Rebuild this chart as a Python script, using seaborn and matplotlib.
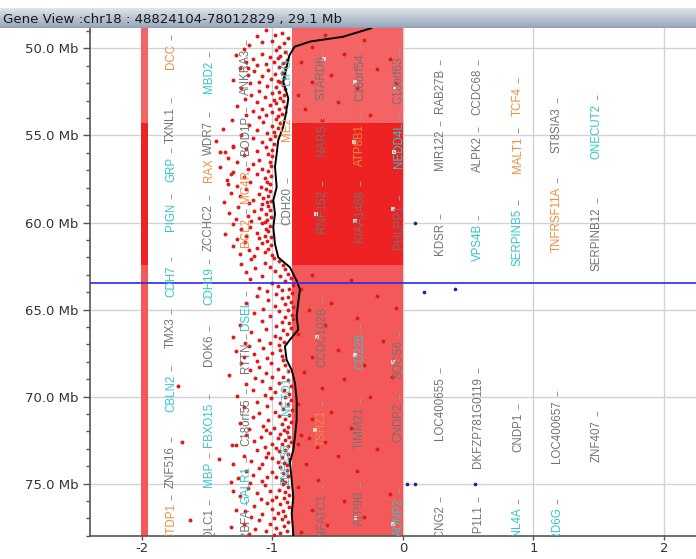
import numpy as np
import pandas as pd
import matplotlib
matplotlib.use("Agg")
import matplotlib.pyplot as plt
from matplotlib.colors import LinearSegmentedColormap
from matplotlib.ticker import MultipleLocator, FuncFormatter
import seaborn as sns

sns.set_theme(style="white")
plt.rcParams["font.family"] = ["DejaVu Sans"]
plt.rcParams["axes.unicode_minus"] = False

CHROM = "chr18"
START_BP = 48824104
END_BP = 78012829
START_MB = START_BP / 1e6
END_MB = END_BP / 1e6
SPAN_MB = int((END_BP - START_BP) / 1e5) / 10   # truncated to one decimal

# copy-number segments along the region (Mb)
seg_start = [START_MB, 54.30, 62.45]
seg_end = [54.30, 62.45, END_MB]
seg_color = ["#F46464", "#EE2222", "#F45959"]
seg_left = -0.85          # segment mean log ratio
track_left = -2.006       # summary track at the left
track_width = 0.053

# probe log ratios: (position Mb, log ratio)
probes = [
    (48.95, -1.05), (49.1, -0.93), (49.3, -1.12), (49.4, -0.88), (49.55, -1.0), (49.7, -0.91), (49.8, -1.18),
    (49.9, -0.95), (49.2, -0.98), (49.6, -1.08),
    (50.05, -1.22), (50.1, -0.97), (50.2, -0.9), (50.3, -1.08), (50.35, -1.28), (50.45, -0.94), (50.5, -1.02),
    (50.6, -1.15), (50.65, -0.89), (50.75, -0.99), (50.8, -1.2), (50.85, -0.92), (50.9, -1.05), (50.95, -1.12),
    (50.55, -0.96),
    (51.05, -0.95), (51.1, -1.25), (51.15, -0.9), (51.25, -1.03), (51.3, -1.14), (51.4, -0.93), (51.45, -0.98),
    (51.55, -1.19), (51.6, -1.08), (51.7, -0.91), (51.75, -1.01), (51.8, -1.3), (51.85, -0.96), (51.9, -1.1),
    (51.95, -0.94),
    (52.0, -1.17), (52.1, -0.92), (52.15, -1.04), (52.2, -0.97), (52.3, -1.24), (52.35, -0.9), (52.45, -1.1),
    (52.5, -0.95), (52.55, -1.0), (52.65, -1.16), (52.7, -0.91), (52.8, -1.06), (52.85, -0.94), (52.9, -1.21),
    (52.95, -0.99),
    (53.0, -0.92), (53.1, -1.12), (53.15, -0.97), (53.25, -1.02), (53.3, -1.27), (53.35, -0.9), (53.45, -1.08),
    (53.5, -0.95), (53.6, -1.15), (53.65, -1.0), (53.75, -0.93), (53.8, -1.2), (53.85, -1.05), (53.9, -0.96),
    (53.95, -1.1),
    (54.05, -0.97), (54.1, -1.31), (54.2, -1.07), (54.3, -0.94), (54.4, -1.18), (54.45, -1.0), (54.55, -0.96),
    (54.6, -1.38), (54.7, -1.12), (54.8, -0.99), (54.85, -1.04), (54.95, -1.24),
    (55.05, -0.98), (55.15, -1.15), (55.2, -1.02), (55.3, -1.43), (55.4, -1.08), (55.5, -0.99), (55.6, -1.3),
    (55.65, -1.05), (55.75, -1.2), (55.85, -1.0), (55.9, -1.12), (55.95, -1.36),
    (56.05, -1.03), (56.1, -1.22), (56.2, -1.0), (56.3, -1.34), (56.4, -1.1), (56.5, -1.02), (56.55, -1.27),
    (56.65, -1.15), (56.75, -1.01), (56.8, -1.4), (56.9, -1.08), (56.95, -1.19),
    (57.05, -1.03), (57.1, -1.3), (57.2, -1.12), (57.3, -1.01), (57.4, -1.22), (57.45, -1.06), (57.55, -1.35),
    (57.65, -1.04), (57.7, -1.17), (57.8, -1.02), (57.9, -1.27), (57.95, -1.09),
    (58.05, -1.05), (58.1, -1.2), (58.2, -1.02), (58.3, -1.32), (58.35, -1.1), (58.45, -1.03), (58.5, -1.25),
    (58.6, -1.07), (58.7, -1.15), (58.75, -1.01), (58.8, -1.37), (58.85, -1.04), (58.9, -1.18), (58.95, -1.08),
    (59.05, -1.03), (59.1, -1.26), (59.2, -1.09), (59.3, -1.02), (59.35, -1.14), (59.45, -1.33), (59.5, -1.05),
    (59.6, -1.19), (59.7, -1.01), (59.75, -1.1), (59.8, -1.28), (59.85, -1.04), (59.9, -1.16), (59.95, -1.06),
    (60.05, -1.08), (60.1, -1.3), (60.2, -1.02), (60.25, -1.17), (60.35, -1.05), (60.4, -1.24), (60.5, -1.03),
    (60.6, -1.12), (60.65, -1.36), (60.75, -1.06), (60.8, -1.2), (60.85, -1.01), (60.9, -1.1), (60.95, -1.27),
    (61.05, -1.04), (61.1, -1.21), (61.2, -1.08), (61.3, -1.01), (61.35, -1.3), (61.45, -1.12), (61.55, -1.03),
    (61.6, -1.18), (61.7, -1.06), (61.8, -1.25), (61.85, -1.0), (61.95, -1.14),
    (62.05, -0.99), (62.1, -1.16), (62.2, -0.95), (62.3, -1.06), (62.4, -1.24), (62.45, -0.92), (62.55, -1.02),
    (62.6, -1.13), (62.7, -0.9), (62.8, -0.98), (62.85, -1.2), (62.95, -0.88),
    (63.05, -0.94), (63.1, -1.08), (63.2, -0.86), (63.25, -1.17), (63.35, -0.9), (63.45, -1.0), (63.6, -0.84),
    (63.65, -0.96), (63.75, -1.1), (63.8, -0.87), (63.9, -0.93), (63.95, -1.04),
    (64.05, -0.85), (64.1, -0.97), (64.2, -1.12), (64.3, -0.88), (64.35, -0.93), (64.45, -1.03), (64.55, -0.86),
    (64.6, -1.2), (64.7, -0.9), (64.8, -0.98), (64.85, -0.84), (64.95, -1.07),
    (65.05, -0.88), (65.1, -0.95), (65.2, -1.14), (65.3, -0.85), (65.4, -1.02), (65.45, -0.9), (65.55, -0.84),
    (65.65, -1.08), (65.7, -0.93), (65.8, -0.87), (65.9, -1.25), (65.95, -0.97),
    (66.05, -0.86), (66.1, -1.05), (66.2, -0.92), (66.3, -1.16), (66.4, -0.89), (66.5, -0.98), (66.55, -1.3),
    (66.65, -0.94), (66.75, -1.1), (66.85, -0.91), (66.9, -1.02), (66.95, -1.21),
    (67.05, -0.95), (67.1, -1.18), (67.2, -1.07), (67.3, -0.94), (67.4, -1.28), (67.5, -1.0), (67.55, -1.14),
    (67.65, -0.93), (67.75, -1.22), (67.8, -1.04), (67.9, -0.92), (67.95, -1.12),
    (68.05, -1.01), (68.1, -1.24), (68.2, -0.9), (68.3, -1.1), (68.4, -0.96), (68.5, -1.17), (68.55, -0.88),
    (68.65, -1.05), (68.75, -1.33), (68.85, -0.92), (68.9, -1.0), (68.95, -1.13),
    (69.05, -0.88), (69.1, -1.08), (69.2, -0.95), (69.3, -1.2), (69.4, -0.86), (69.5, -1.02), (69.6, -0.91),
    (69.65, -1.15), (69.75, -0.98), (69.85, -0.87), (69.9, -1.06), (69.95, -1.27),
    (70.05, -0.9), (70.1, -1.01), (70.2, -0.86), (70.3, -1.12), (70.35, -0.94), (70.45, -0.88), (70.55, -1.04),
    (70.6, -1.22), (70.7, -0.92), (70.8, -0.85), (70.9, -0.98), (70.95, -1.1),
    (71.05, -0.87), (71.1, -0.95), (71.2, -1.15), (71.3, -0.9), (71.35, -1.03), (71.45, -0.86), (71.5, -1.25),
    (71.6, -0.93), (71.7, -1.07), (71.75, -0.88), (71.8, -0.99), (71.85, -1.18), (71.9, -0.91), (71.95, -1.05),
    (72.05, -0.89), (72.1, -1.02), (72.15, -0.94), (72.2, -1.2), (72.3, -0.87), (72.35, -1.09), (72.4, -0.96),
    (72.5, -0.9), (72.55, -1.14), (72.6, -0.86), (72.7, -1.0), (72.75, -0.93), (72.8, -1.28), (72.85, -0.88),
    (72.9, -1.06), (72.95, -0.97),
    (73.05, -0.9), (73.1, -1.12), (73.15, -0.95), (73.25, -1.03), (73.3, -0.88), (73.4, -1.22), (73.45, -0.93),
    (73.55, -1.0), (73.6, -0.87), (73.7, -1.16), (73.75, -0.96), (73.8, -0.91), (73.85, -1.08), (73.9, -1.3),
    (73.95, -0.89), (73.5, -1.05),
    (74.05, -0.94), (74.1, -1.1), (74.2, -0.89), (74.25, -1.2), (74.35, -1.0), (74.4, -0.92), (74.5, -1.15),
    (74.55, -0.88), (74.65, -1.04), (74.7, -1.26), (74.8, -0.93), (74.85, -1.08), (74.9, -0.9), (74.95, -1.17),
    (74.6, -0.97),
    (75.05, -0.92), (75.1, -1.06), (75.2, -0.88), (75.25, -1.19), (75.35, -0.95), (75.4, -1.02), (75.5, -0.9),
    (75.55, -1.12), (75.65, -0.87), (75.7, -1.25), (75.8, -0.97), (75.85, -0.91), (75.9, -1.09), (75.95, -1.0),
    (75.45, -1.3),
    (76.05, -0.89), (76.1, -1.04), (76.2, -0.94), (76.3, -1.14), (76.35, -0.87), (76.45, -1.0), (76.55, -0.92),
    (76.6, -1.21), (76.7, -0.96), (76.75, -1.08), (76.85, -0.9), (76.9, -1.16), (76.95, -0.99), (76.5, -1.28),
    (77.05, -0.93), (77.1, -1.1), (77.2, -0.88), (77.3, -1.02), (77.35, -1.22), (77.45, -0.91), (77.55, -0.97),
    (77.6, -1.13), (77.7, -0.89), (77.75, -1.05), (77.85, -0.94), (77.9, -1.18), (77.95, -0.99), (77.5, -1.32),
    # isolated probes further out
    (72.6, -1.69), (73.56, -1.41), (77.1, -1.63), (69.4, -1.72), (55.66, -1.30), (74.9, -1.32), (55.94, -1.40),
    (57.2, -1.32), (57.8, -1.34), (72.8, -1.31), (51.15, -1.19),
    # probes lying over the segment
    (49.2, -0.6), (49.5, -0.3), (49.9, -0.7), (50.3, -0.45), (50.8, -0.78), (51.2, -0.2), (51.5, -0.55),
    (51.9, -0.7), (52.3, -0.35), (52.7, -0.8), (53.1, -0.5), (53.5, -0.75), (53.8, -0.25), (54.1, -0.62),
    (50.6, -0.1), (52.0, -0.05),
    (63.0, -0.7), (63.3, -0.4), (63.8, -0.78), (64.2, -0.2), (64.6, -0.55), (65.0, -0.72), (65.5, -0.35),
    (65.9, -0.6), (66.4, -0.8), (66.8, -0.15), (67.3, -0.5), (67.7, -0.7), (68.2, -0.3), (68.6, -0.76),
    (69.0, -0.45), (69.5, -0.62), (70.0, -0.25), (70.4, -0.8), (70.9, -0.55), (71.3, -0.7), (71.8, -0.4),
    (72.2, -0.78), (72.6, -0.6), (73.0, -0.2), (73.4, -0.5), (73.9, -0.74), (74.3, -0.35), (74.8, -0.65),
    (75.2, -0.8), (75.6, -0.1), (76.0, -0.45), (76.5, -0.7), (76.9, -0.3), (77.4, -0.58), (77.8, -0.78),
    (64.9, -0.05), (68.9, -0.08), (72.9, -0.66), (72.4, -0.72), (72.7, -0.8),
]

# smoothed log-ratio trend
trend_mb = [48.83, 49.33, 49.6, 49.9, 50.4, 51.04, 51.9, 52.87, 53.54, 54.5, 55.27, 56.04, 56.81, 57.96,
            58.73, 59.5, 60.27, 61.23, 62.0, 62.58, 63.35, 63.85, 64.6, 65.39, 66.16, 66.73, 67.12, 67.89,
            68.47, 69.22, 70.2, 71.35, 72.31, 73.08, 73.76, 74.81, 75.78, 76.73, 77.87, 78.01]
trend_ratio = [-0.24, -0.46, -0.71, -0.83, -0.87, -0.89, -0.917, -0.878, -0.891, -0.917, -0.955, -0.967,
               -0.98, -0.967, -0.993, -0.98, -0.993, -0.98, -0.955, -0.865, -0.814, -0.789, -0.802, -0.814,
               -0.802, -0.865, -0.904, -0.891, -0.852, -0.827, -0.814, -0.814, -0.827, -0.84, -0.865,
               -0.852, -0.84, -0.852, -0.84, -0.84]

# cursor position and outlier probes
cursor_mb = 63.48
outlier_mb = [60.0, 64.0, 63.8, 75.0, 75.0, 75.0]
outlier_ratio = [0.09, 0.16, 0.40, 0.03, 0.09, 0.55]

# exon boxes inside the segment
exon_mb = [50.58, 51.9, 52.25, 55.37, 55.94, 59.52, 59.92, 59.23, 66.56, 67.6, 68.0, 71.93, 77.0, 77.3]
exon_ratio = [-0.605, -0.368, -0.061, -0.375, -0.069, -0.666, -0.368, -0.077, -0.659, -0.368, -0.077,
              -0.674, -0.368, -0.077]

# gene annotations: name, column (log-ratio units), label top (Mb), class
gene_name = ["DCC", "TXNL1", "GRP", "PIGN", "CDH7", "TMX3", "CBLN2", "ZNF516", "CTDP1",
             "MBD2", "WDR7", "RAX", "ZCCHC2", "CDH19", "DOK6", "FBXO15", "MBP", "PQLC1",
             "ANKRA3", "BOD1P", "MC4R", "BCL2", "DSEL", "RTTN", "C18orf55", "GALR1", "RBFA",
             "LIPG", "ME2", "CDH20", "NETO1", "ZNF236",
             "STARD6", "NARS", "RNF152", "CCDC102B", "TSHZ1", "NFATC1",
             "C18orf54", "ATP8B1", "KIAA1468", "CD226", "TIMM21", "ATP9B",
             "C18orf63", "NEDD4L", "PHLPP1", "SOCS6", "CNDP2", "ADNP2",
             "RAB27B", "MIR122", "KDSR", "LOC400655", "KCNG2",
             "CCDC68", "ALPK2", "VPS4B", "DKFZP781G0119", "HSBP1L1",
             "TCF4", "MALT1", "SERPINB5", "CNDP1", "TXNL4A",
             "ST8SIA3", "TNFRSF11A", "LOC400657", "PARD6G",
             "ONECUT2", "SERPINB12", "ZNF407"]
gene_col = ([-1.776] * 9 + [-1.485] * 9 + [-1.202] * 9 + [-0.888] * 5 + [-0.62] * 6 + [-0.329] * 6
            + [-0.031] * 6 + [0.283] * 5 + [0.574] * 5 + [0.881] * 5 + [1.179] * 4 + [1.485] * 3)
gene_top = [49.71, 53.35, 56.23, 58.89, 62.46, 65.46, 68.75, 72.85, 76.14,
            50.69, 54.15, 56.29, 58.94, 62.58, 66.45, 70.37, 73.77, 76.43,
            50.0, 53.87, 56.98, 59.75, 64.43, 66.91, 70.08, 74.0, 76.43,
            50.58, 53.92, 57.96, 68.87, 72.68,
            50.4, 54.33, 58.14, 64.83, 70.77, 75.56,
            50.29, 54.33, 58.14, 66.33, 70.6, 75.39,
            50.46, 54.21, 58.94, 66.73, 70.37, 75.79,
            51.15, 54.67, 60.04, 68.87, 76.26,
            51.15, 55.02, 60.1, 68.87, 76.26,
            52.19, 55.08, 59.23, 70.95, 76.37,
            53.35, 57.96, 70.2, 76.37,
            53.17, 59.12, 71.35]
gene_class = ["o", "g", "c", "c", "c", "g", "c", "g", "o",
              "c", "g", "o", "g", "c", "g", "c", "c", "g",
              "g", "g", "o", "o", "c", "g", "g", "c", "g",
              "c", "o", "g", "c", "c",
              "g", "g", "g", "g", "o", "g",
              "g", "o", "g", "c", "g", "g",
              "g", "c", "g", "g", "g", "c",
              "g", "g", "g", "g", "g",
              "g", "g", "c", "g", "g",
              "o", "o", "c", "g", "c",
              "g", "o", "g", "c",
              "c", "g", "g"]
class_color = {"g": "#727272", "c": "#33C6CA", "o": "#F28C40"}

probe_df = pd.DataFrame(probes, columns=["mb", "ratio"])

fig = plt.figure(figsize=(6.96, 5.59), dpi=100)
fig.patch.set_facecolor("white")
ax = fig.add_axes([90 / 696, 23 / 559, 606 / 696, 508 / 559])
ax.set_facecolor("white")

# segments: main copy-number block and the summary track
for s, e, c in zip(seg_start, seg_end, seg_color):
    ax.barh(y=(s + e) / 2, width=-seg_left, left=seg_left, height=e - s, color=c, linewidth=0, zorder=1)
    ax.barh(y=(s + e) / 2, width=track_width, left=track_left, height=e - s, color=c, linewidth=0, zorder=1)

sns.scatterplot(data=probe_df, x="ratio", y="mb", color="#DC1C1C", s=8, linewidth=0, ax=ax, zorder=3)
sns.scatterplot(x=exon_ratio, y=exon_mb, marker="s", color="#F9D6D6", s=10, linewidth=0, ax=ax, zorder=4)
sns.lineplot(x=trend_ratio, y=trend_mb, sort=False, estimator=None, orient="y", color="black",
             linewidth=1.4, ax=ax, zorder=5)
ax.axhline(cursor_mb, color="#2A2AE8", linewidth=1.2, zorder=6)
sns.scatterplot(x=outlier_ratio, y=outlier_mb, color="#23239A", s=7, linewidth=0, ax=ax, zorder=6)

for name, x, top, cls in zip(gene_name, gene_col, gene_top, gene_class):
    ax.vlines(x, top - 0.5, top - 0.22, color="#999999", linewidth=0.7, zorder=7)
    ax.text(x, top, name, rotation=90, ha="center", va="top", fontsize=8.3,
            family=["Liberation Sans", "DejaVu Sans"], color=class_color[cls], clip_on=True, zorder=7)

ax.set_xlim(-2.397, 2.245)
ax.set_ylim(END_MB, START_MB)
ax.set_xlabel("")
ax.set_ylabel("")
ax.xaxis.set_major_locator(MultipleLocator(1))
ax.yaxis.set_major_locator(MultipleLocator(5))
ax.yaxis.set_minor_locator(MultipleLocator(1))
ax.yaxis.set_major_formatter(FuncFormatter(lambda v, p: f"{v:.1f} Mb"))
ax.xaxis.set_major_formatter(FuncFormatter(lambda v, p: f"{v:g}"))
ax.set_axisbelow(True)
ax.grid(True, which="major", color="#D2D2D2", linewidth=1)
ax.tick_params(axis="y", which="major", length=5, width=1, color="#555555", labelsize=9.5,
               labelcolor="#333333", pad=3.5, left=True)
ax.tick_params(axis="y", which="minor", length=3, width=1, color="#555555", left=True)
ax.tick_params(axis="x", which="major", length=3, width=1, color="#555555", labelsize=9.5,
               labelcolor="#333333", pad=1.5, bottom=True)
for side in ["top", "right"]:
    ax.spines[side].set_visible(False)
for side in ["left", "bottom"]:
    ax.spines[side].set_color("#555555")
    ax.spines[side].set_linewidth(1.2)

# window title bar
bar = fig.add_axes([0, 1 - 28 / 559, 1, 20 / 559])
bar_cmap = LinearSegmentedColormap.from_list("bar", ["#E1E5EC", "#B9C3D2", "#98A5BA"])
bar.imshow(np.linspace(0, 1, 60).reshape(-1, 1), aspect="auto", cmap=bar_cmap, extent=[0, 1, 0, 1])
bar.axhline(0.02, color="#7C889C", linewidth=1)
bar.set_xlim(0, 1)
bar.set_ylim(0, 1)
bar.axis("off")
bar.text(0.005, 0.45, f"Gene View :{CHROM} : {START_BP}-{END_BP} , {SPAN_MB:.1f} Mb",
         ha="left", va="center", fontsize=9.6, color="#1A1A1A")

fig.savefig("out.png", dpi=100, facecolor="white")
